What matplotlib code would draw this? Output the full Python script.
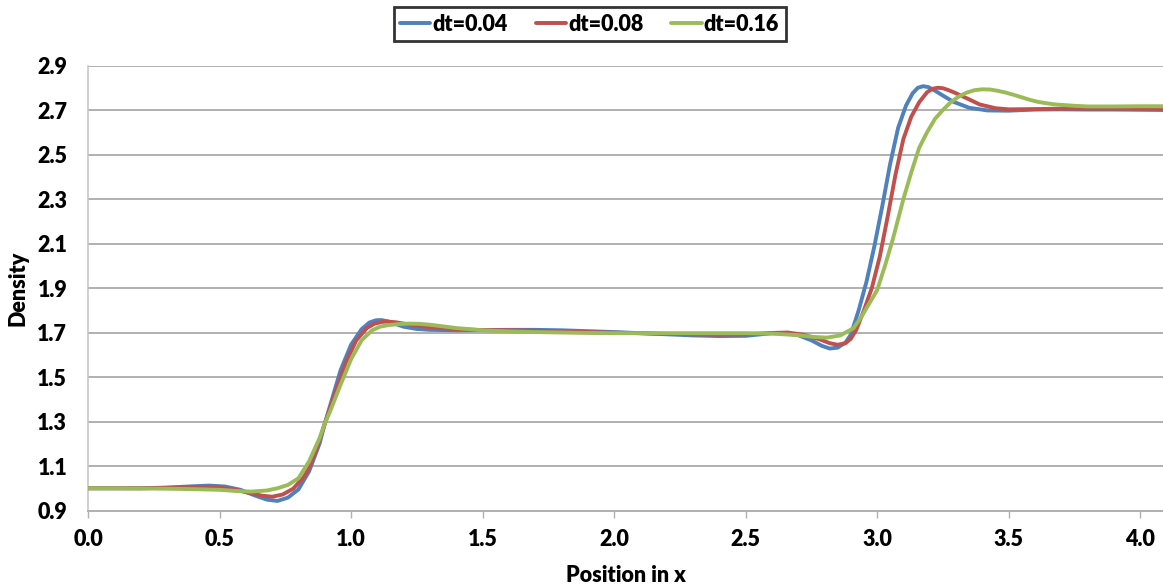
import matplotlib
matplotlib.use("Agg")
import matplotlib.pyplot as plt

plt.rcParams['font.family'] = ['Lato', 'DejaVu Sans']

# dt=0.04
x_a = [0.0, 0.1, 0.2, 0.3, 0.4, 0.46, 0.52, 0.58, 0.64, 0.68, 0.72, 0.76, 0.80, 0.84, 0.88,
       0.90, 0.92, 0.96, 1.00, 1.04, 1.07, 1.095, 1.115, 1.14, 1.17, 1.2, 1.25, 1.3, 1.4, 1.5,
       1.6, 1.7, 1.8, 1.9, 2.0, 2.1, 2.2, 2.3, 2.4, 2.5, 2.6, 2.65, 2.7, 2.75, 2.79, 2.82,
       2.85, 2.88, 2.9, 2.93, 2.96, 2.99, 3.02, 3.05, 3.08, 3.11, 3.135, 3.155, 3.175, 3.195,
       3.22, 3.25, 3.29, 3.35, 3.42, 3.5, 3.6, 3.7, 3.8, 3.9, 4.0, 4.09]
y_a = [1.0, 1.0, 1.0, 1.003, 1.009, 1.012, 1.008, 0.993, 0.965, 0.949, 0.943, 0.958, 0.995,
       1.075, 1.2, 1.29, 1.37, 1.53, 1.645, 1.715, 1.745, 1.755, 1.756, 1.75, 1.738, 1.726,
       1.716, 1.712, 1.71, 1.711, 1.712, 1.712, 1.71, 1.706, 1.702, 1.697, 1.692, 1.687,
       1.684, 1.685, 1.697, 1.697, 1.688, 1.665, 1.64, 1.628, 1.632, 1.655, 1.69, 1.8, 1.93,
       2.09, 2.27, 2.46, 2.62, 2.72, 2.775, 2.8, 2.807, 2.803, 2.787, 2.765, 2.737, 2.71,
       2.698, 2.697, 2.702, 2.703, 2.702, 2.702, 2.701, 2.700]

# dt=0.08
x_b = [0.0, 0.1, 0.2, 0.3, 0.4, 0.5, 0.56, 0.62, 0.66, 0.70, 0.74, 0.78, 0.82, 0.84, 0.87,
       0.90, 0.94, 0.98, 1.02, 1.06, 1.09, 1.12, 1.14, 1.17, 1.2, 1.25, 1.3, 1.4, 1.5, 1.6,
       1.7, 1.8, 1.9, 2.0, 2.1, 2.2, 2.3, 2.4, 2.5, 2.6, 2.66, 2.72, 2.78, 2.82, 2.85, 2.88,
       2.9, 2.92, 2.95, 2.98, 3.01, 3.04, 3.07, 3.10, 3.13, 3.16, 3.19, 3.21, 3.23, 3.25,
       3.27, 3.295, 3.32, 3.355, 3.39, 3.45, 3.5, 3.6, 3.7, 3.8, 3.9, 4.0, 4.09]
y_b = [1.0, 1.0, 1.0, 1.002, 1.005, 1.003, 0.993, 0.977, 0.967, 0.962, 0.972, 0.998, 1.05,
       1.09, 1.18, 1.29, 1.43, 1.565, 1.665, 1.72, 1.74, 1.748, 1.749, 1.746, 1.74, 1.73,
       1.724, 1.715, 1.711, 1.71, 1.708, 1.705, 1.702, 1.699, 1.697, 1.694, 1.692, 1.69,
       1.692, 1.698, 1.700, 1.69, 1.67, 1.652, 1.645, 1.652, 1.672, 1.71, 1.8, 1.9, 2.04,
       2.22, 2.41, 2.57, 2.67, 2.735, 2.78, 2.795, 2.8, 2.798, 2.79, 2.778, 2.764, 2.745,
       2.725, 2.708, 2.703, 2.704, 2.706, 2.706, 2.706, 2.705, 2.705]

# dt=0.16
x_c = [0.0, 0.1, 0.2, 0.3, 0.4, 0.5, 0.56, 0.62, 0.68, 0.72, 0.76, 0.80, 0.84, 0.88, 0.90,
       0.92, 0.96, 1.00, 1.04, 1.08, 1.11, 1.14, 1.18, 1.22, 1.26, 1.3, 1.4, 1.5, 1.6, 1.7,
       1.8, 1.9, 2.0, 2.1, 2.2, 2.3, 2.4, 2.5, 2.6, 2.7, 2.76, 2.81, 2.86, 2.91, 2.94, 2.97,
       3.0, 3.03, 3.06, 3.1, 3.13, 3.16, 3.19, 3.22, 3.25, 3.28, 3.31, 3.34, 3.37, 3.40,
       3.43, 3.46, 3.49, 3.52, 3.55, 3.58, 3.61, 3.64, 3.67, 3.7, 3.75, 3.8, 3.9, 4.0, 4.09]
y_c = [1.0, 1.0, 0.999, 0.998, 0.996, 0.993, 0.988, 0.985, 0.99, 1.0, 1.015, 1.045, 1.12,
       1.225, 1.29, 1.345, 1.465, 1.58, 1.665, 1.71, 1.726, 1.733, 1.738, 1.74, 1.739,
       1.735, 1.72, 1.71, 1.705, 1.702, 1.7, 1.698, 1.697, 1.697, 1.697, 1.697, 1.697,
       1.697, 1.695, 1.688, 1.68, 1.677, 1.687, 1.719, 1.77, 1.83, 1.89, 2.0, 2.12, 2.3,
       2.42, 2.53, 2.6, 2.66, 2.70, 2.735, 2.76, 2.778, 2.789, 2.793, 2.792, 2.786, 2.778,
       2.768, 2.757, 2.746, 2.737, 2.731, 2.726, 2.723, 2.719, 2.716, 2.716, 2.717, 2.717]

labels = ['dt=0.04', 'dt=0.08', 'dt=0.16']
colors = ['#4F81BD', '#C0504D', '#9BBB59']
WEIGHT = 'heavy'

fig = plt.figure(figsize=(11.63, 5.87), dpi=100)
ax = fig.add_axes([0.0757, 0.1303, 0.9243, 0.7581])

for xs, ys, lab, col in zip([x_a, x_b, x_c], [y_a, y_b, y_c], labels, colors):
    ax.plot(xs, ys, color=col, lw=2.8, label=lab, solid_capstyle='round',
            solid_joinstyle='round', zorder=3)

ax.set_xlim(0, 4.087)
ax.set_ylim(0.9, 2.9)
ax.set_xticks([0.0, 0.5, 1.0, 1.5, 2.0, 2.5, 3.0, 3.5, 4.0])
ax.set_yticks([0.9, 1.1, 1.3, 1.5, 1.7, 1.9, 2.1, 2.3, 2.5, 2.7, 2.9])
ax.xaxis.set_major_formatter(matplotlib.ticker.FormatStrFormatter('%.1f'))
ax.yaxis.set_major_formatter(matplotlib.ticker.FormatStrFormatter('%.1f'))
ax.grid(axis='y', color='#B0B0B0', lw=1.4)
ax.set_axisbelow(True)
for s in ['top', 'right']:
    ax.spines[s].set_visible(False)
ax.spines['left'].set_color('#C4C4C4')
ax.spines['bottom'].set_color('#B0B0B0')
ax.spines['left'].set_linewidth(1.1)
ax.spines['bottom'].set_linewidth(1.4)
ax.tick_params(axis='x', direction='out', length=5, width=1, color='#B0B0B0',
               pad=8, labelsize=15.5)
ax.tick_params(axis='y', length=0, pad=15, labelsize=15.5)
for t in ax.get_xticklabels() + ax.get_yticklabels():
    t.set_fontweight(WEIGHT)

ax.set_xlabel('Position in x', fontsize=15.5, fontweight=WEIGHT, labelpad=11)
ax.set_ylabel('Density', fontsize=15.5, fontweight=WEIGHT, labelpad=6)

leg = fig.legend(loc='center', bbox_to_anchor=(0.507, 0.959), ncol=3, frameon=True,
                 fancybox=False, edgecolor='black', handlelength=1.4, handletextpad=0.1,
                 columnspacing=1.3, borderpad=0.3, prop={'weight': WEIGHT, 'size': 15.5})
leg.get_frame().set_linewidth(2)

fig.savefig('out.png', dpi=100)
